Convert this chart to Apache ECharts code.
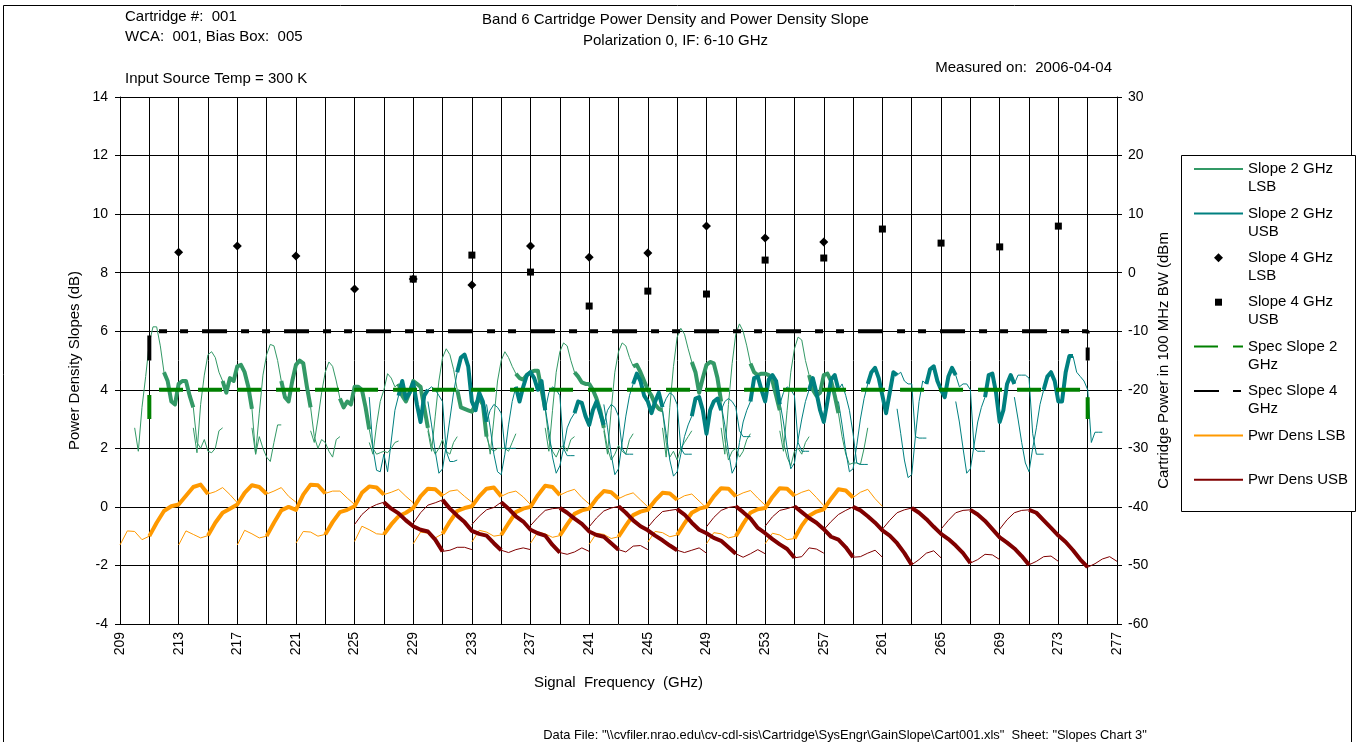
<!DOCTYPE html>
<html><head><meta charset="utf-8">
<script src="https://cdn.jsdelivr.net/npm/echarts@6/dist/echarts.min.js"></script>
<style>html,body{margin:0;padding:0;background:#fff}#c{width:1358px;height:742px}</style>
</head><body><div id="c"></div>
<script>
// ---------------- data ----------------
const LO_GHZ = [221,225,229,233,237,241,245,249,253,257,261,265];
const IF_PWR_GHZ = [4,4.5,5,5.5,6,6.5,7,7.5,8,8.5,9,9.5,10,10.5,11,11.5,12];
const IF_SLOPE_GHZ = [5,5.25,5.5,5.75,6,6.25,6.5,6.75,7,7.25,7.5,7.75,8,8.25,8.5,8.75,9,9.25,9.5,9.75,10,10.25,10.5,10.75,11];
const IN_BAND_PWR = [6,10];
const IN_BAND_SLOPE = [7,9];

// power density (dBm), one row per LO, ordered by ascending signal frequency
const PWR_LSB = [
[-46.5,-44.1,-44.2,-45.6,-45.0,-42.7,-40.7,-39.9,-39.6,-38.1,-36.6,-36.2,-37.8,-37.4,-36.7,-37.9,-39.3],
[-46.5,-44.1,-44.7,-45.3,-44.9,-42.7,-41.0,-40.3,-39.6,-37.6,-36.3,-36.6,-37.8,-37.3,-36.7,-38.2,-39.2],
[-46.5,-44.0,-44.6,-45.3,-45.0,-42.7,-40.6,-40.0,-40.5,-37.9,-36.2,-36.3,-37.7,-37.3,-37.3,-38.5,-39.6],
[-46.2,-44.2,-44.3,-45.0,-44.7,-42.6,-40.9,-40.5,-39.9,-37.6,-36.5,-36.7,-37.9,-37.5,-37.0,-38.2,-39.3],
[-45.9,-43.3,-43.9,-44.6,-44.7,-43.0,-41.6,-41.0,-40.2,-38.2,-36.9,-37.0,-38.1,-37.3,-37.1,-38.2,-39.2],
[-46.3,-44.3,-44.5,-45.3,-44.6,-42.5,-40.7,-40.2,-39.9,-38.2,-36.9,-36.7,-38.2,-37.6,-37.3,-38.3,-39.6],
[-46.0,-44.0,-44.3,-45.0,-44.8,-42.8,-40.9,-40.3,-40.0,-38.0,-36.4,-36.6,-38.0,-37.4,-37.0,-38.4,-39.5],
[-46.2,-44.3,-44.6,-45.2,-44.9,-43.0,-41.2,-40.6,-40.3,-38.6,-37.3,-37.5,-38.6,-38.0,-37.6,-38.8,-40.0],
[-46.4,-44.5,-44.7,-45.4,-45.1,-43.2,-41.4,-40.8,-40.5,-38.9,-37.6,-37.7,-38.8,-38.1,-37.8,-39.0,-40.2],
[-46.0,-44.2,-44.4,-45.1,-44.8,-42.8,-41.0,-40.3,-40.0,-38.2,-36.8,-36.9,-38.2,-37.6,-37.2,-38.5,-39.7],
[-46.3,-44.4,-44.6,-45.3,-45.0,-42.9,-41.0,-40.4,-40.2,-38.3,-36.8,-36.9,-38.1,-37.5,-37.1,-38.4,-39.8],
[-46.3,-44.5,-44.8,-45.6,-45.4,-43.2,-41.5,-40.8,-40.4,-38.6,-37.0,-37.2,-38.4,-37.5,-37.0,-38.6,-39.9]
];
const PWR_USB = [
[-43.0,-41.3,-40.2,-39.6,-39.2,-40.3,-41.1,-42.3,-43.3,-43.9,-44.2,-45.6,-47.6,-47.4,-46.9,-46.9,-47.3],
[-42.8,-41.0,-39.7,-39.3,-38.8,-40.3,-41.5,-42.6,-44.1,-44.6,-44.9,-46.2,-47.4,-47.8,-47.3,-47.0,-47.3],
[-43.0,-41.6,-40.5,-40.1,-39.2,-40.3,-41.6,-42.5,-43.9,-44.5,-44.9,-46.5,-47.8,-48.1,-47.7,-47.0,-47.6],
[-43.2,-41.8,-40.6,-40.3,-40.2,-41.0,-42.0,-42.9,-44.2,-44.8,-45.1,-46.2,-47.3,-47.7,-46.7,-46.6,-47.3],
[-43.4,-41.9,-40.7,-40.2,-39.9,-41.0,-42.3,-43.3,-44.0,-44.9,-45.7,-46.6,-47.4,-47.8,-47.4,-47.0,-47.9],
[-43.5,-42.0,-40.8,-40.6,-40.4,-41.3,-42.7,-43.9,-44.5,-45.3,-45.8,-46.9,-48.0,-48.6,-48.0,-47.3,-48.0],
[-43.4,-41.8,-40.6,-40.1,-39.9,-40.9,-42.0,-43.6,-44.5,-45.5,-46.4,-47.2,-48.7,-48.5,-47.0,-47.2,-47.9],
[-43.3,-41.7,-40.6,-40.3,-39.9,-40.9,-41.9,-42.7,-43.8,-45.1,-45.6,-46.9,-48.6,-48.5,-47.9,-47.4,-48.6],
[-43.9,-42.5,-41.3,-40.6,-40.0,-40.6,-41.6,-42.7,-44.0,-44.9,-46.2,-47.9,-49.9,-49.0,-47.9,-47.5,-48.7],
[-43.8,-42.3,-41.0,-40.5,-40.2,-41.0,-42.1,-43.4,-44.6,-45.5,-46.6,-47.9,-49.6,-49.0,-48.1,-48.2,-49.0],
[-43.8,-42.3,-41.0,-40.6,-40.5,-41.3,-42.4,-43.8,-45.2,-46.1,-47.1,-48.4,-49.9,-49.3,-48.5,-48.4,-49.3],
[-43.8,-42.2,-41.0,-40.6,-40.5,-41.0,-42.3,-43.6,-44.9,-46.0,-47.4,-49.0,-50.3,-49.7,-48.9,-48.5,-49.3]
];
// 2 GHz slopes (dB), one row per LO, ordered by ascending signal frequency
const SLOPE2_LSB = [
[2.7,1.9,3.4,4.45,5.6,6.15,6.15,5.5,4.6,4.3,3.6,3.5,4.2,4.3,4.3,3.8,3.4,2.2,2.0,2.3,1.9,1.85,2.0,2.6,2.7],
[2.7,1.85,3.5,4.5,5.2,5.3,5.1,4.6,4.3,3.9,4.4,4.3,4.8,4.85,4.6,4.1,3.35,1.8,2.4,2.0,1.7,1.55,2.2,2.8,2.8],
[2.7,1.8,3.2,4.5,5.2,5.55,5.5,5.0,4.3,3.75,3.6,4.3,4.85,5.0,4.9,4.1,3.4,2.4,2.0,2.3,2.2,1.9,1.7,2.3,2.4],
[2.6,2.2,3.0,3.9,4.6,4.95,4.8,4.3,3.7,3.4,3.6,3.5,4.1,4.1,4.0,3.4,2.65,2.0,1.8,1.85,1.9,1.85,2.0,2.2,2.25],
[2.2,1.8,2.8,3.6,4.0,4.55,4.4,4.1,4.2,3.8,3.6,3.9,4.3,4.2,4.1,3.4,2.7,2.1,1.8,2.0,2.3,1.9,1.8,2.2,2.4],
[2.6,1.9,3.1,4.3,5.1,5.4,5.2,4.7,4.0,3.4,3.35,3.3,3.25,3.5,3.7,3.5,2.4,2.0,1.9,2.0,2.0,2.0,1.9,2.2,2.5],
[2.6,1.8,3.0,4.3,5.0,5.3,5.1,4.8,4.55,4.4,4.35,4.5,4.6,4.65,4.65,4.0,3.35,2.3,1.9,1.7,2.0,2.1,1.9,2.3,2.4],
[2.7,1.9,3.3,4.6,5.3,5.6,5.5,5.0,4.6,4.45,4.25,4.2,4.2,4.0,3.7,3.3,2.7,2.0,1.6,1.8,2.1,1.9,1.8,2.3,2.5],
[2.6,1.8,3.3,4.6,5.3,5.6,5.5,5.1,4.8,4.85,4.6,4.3,4.0,3.8,3.5,3.35,3.3,2.2,1.7,1.9,1.6,2.0,2.2,2.4,2.6],
[2.7,1.7,3.4,4.8,5.8,6.1,5.9,5.4,4.95,4.6,3.9,4.4,4.85,4.95,4.9,4.4,3.6,2.3,1.6,1.9,2.0,1.7,1.9,2.3,2.5],
[2.7,1.8,3.5,4.9,5.9,6.25,6.0,5.5,4.9,4.6,4.5,4.55,4.55,4.5,4.3,3.8,3.3,2.2,1.7,1.4,1.9,2.0,1.8,2.2,2.4],
[2.6,1.9,3.3,4.6,5.4,5.8,5.7,5.0,4.5,4.0,3.8,3.9,4.5,4.55,4.3,3.8,3.2,2.4,1.8,1.45,1.5,1.5,1.45,2.0,2.7]
];
const SLOPE2_USB = [
[3.75,2.0,1.25,1.2,1.8,1.2,2.25,3.3,3.8,4.3,3.7,3.9,4.25,3.5,2.9,3.8,4.0,4.1,4.0,3.8,3.6,1.9,1.55,1.55,1.6],
[3.6,2.8,1.9,1.15,1.3,2.1,3.0,3.9,4.6,5.1,5.2,4.8,3.6,3.3,3.9,3.6,2.9,3.3,3.5,3.4,3.2,2.0,2.0,2.0,2.0],
[3.5,2.7,1.8,1.2,1.1,1.8,2.8,3.6,4.1,3.6,4.1,4.5,4.6,4.4,4.0,4.3,3.3,3.9,4.1,4.0,3.8,2.0,1.75,1.75,1.75],
[3.4,2.6,1.7,1.15,1.4,2.0,2.7,3.0,3.2,3.6,3.55,3.1,2.8,3.3,3.6,3.2,2.8,3.3,3.5,3.4,3.1,2.0,1.8,1.8,1.8],
[3.5,2.7,1.8,1.1,1.3,2.2,3.1,3.8,4.2,4.55,4.3,3.8,3.6,3.2,3.6,3.9,3.4,3.7,3.9,3.8,3.5,2.0,1.8,1.8,1.8],
[3.3,2.5,1.6,1.05,1.2,1.8,2.4,2.8,3.1,3.7,3.75,3.3,2.5,3.3,3.6,3.7,3.3,3.6,3.7,3.6,3.4,2.6,2.4,2.4,2.4],
[3.5,2.8,1.9,1.15,1.4,2.2,2.9,3.3,3.6,4.4,4.45,4.0,3.6,4.35,4.5,4.3,3.5,3.9,4.1,4.0,3.8,2.2,1.9,1.9,1.9],
[3.6,2.9,2.0,1.3,1.5,2.3,3.0,3.6,4.0,4.4,3.9,3.3,2.9,3.6,4.35,4.5,4.0,4.2,3.8,3.3,2.5,1.5,1.45,1.45,1.45],
[3.6,2.8,1.9,1.2,1.3,2.1,3.0,3.7,4.2,4.6,4.75,4.4,3.8,3.2,3.9,4.6,4.5,4.6,4.3,4.2,4.2,2.4,2.35,2.35,2.35],
[3.35,2.5,1.6,1.0,1.1,2.4,3.6,4.3,4.2,4.7,4.8,4.3,4.0,3.75,4.45,4.75,4.5,4.1,4.2,4.2,4.0,2.0,1.9,1.9,1.9],
[3.6,2.9,2.0,1.15,1.3,2.1,2.9,3.4,3.75,4.5,4.55,3.9,2.9,3.3,4.2,4.5,4.2,4.5,4.5,4.5,4.4,2.5,1.8,1.8,1.8],
[3.75,3.0,2.2,1.5,1.2,2.0,2.7,3.5,4.0,4.45,4.6,4.3,3.6,3.6,4.6,5.15,5.15,4.6,4.45,4.3,4.0,2.2,2.55,2.55,2.55]
];
// 4 GHz slopes (dB)
const SLOPE4_LSB_GHZ = [213,217,221,225,229,233,237,241,245,249,253,257];
const SLOPE4_LSB = [8.70,8.91,8.57,7.44,7.78,7.58,8.91,8.53,8.67,9.59,9.18,9.05];
const SLOPE4_USB_GHZ = [229,233,237,241,245,249,253,257,261,265,269,273];
const SLOPE4_USB = [7.78,8.60,8.02,6.86,7.37,7.27,8.43,8.50,9.49,9.01,8.88,9.59];
// specification limits
const SPEC_GHZ = [211,211,275,275];
const SPEC2_DB = [3,4,4,3];
const SPEC4_DB = [5,6,6,5];

const LEGEND_NAMES = ['Slope 2 GHz LSB','Slope 2 GHz USB','Slope 4 GHz LSB','Slope 4 GHz USB','Spec Slope 2 GHz','Spec Slope 4 GHz','Pwr Dens LSB','Pwr Dens USB'];
const LEGEND_TEXT = {
 'Slope 2 GHz LSB':' \nSlope 2 GHz\nLSB','Slope 2 GHz USB':' \nSlope 2 GHz\nUSB',
 'Slope 4 GHz LSB':' \nSlope 4 GHz\nLSB','Slope 4 GHz USB':' \nSlope 4 GHz\nUSB',
 'Spec Slope 2 GHz':' \nSpec Slope 2\nGHz','Spec Slope 4 GHz':' \nSpec Slope 4\nGHz',
 'Pwr Dens LSB':' \nPwr Dens LSB\n ','Pwr Dens USB':' \nPwr Dens USB\n '
};
const DATA_FILE = 'Data File: "\\\\cvfiler.nrao.edu\\cv-cdl-sis\\Cartridge\\SysEngr\\GainSlope\\Cart001.xls"  Sheet: "Slopes Chart 3"';

// ---------------- chart ----------------
const FONT = '"Liberation Sans", Arial, Helvetica, sans-serif';
const C = {lsb:'#339966', usb:'#008080', spec2:'#008000', spec4:'#000000', plsb:'#FF9900', pusb:'#800000'};

function sidebandPoints(lo, ifs, vals, lower) {
  const n = ifs.length;
  return vals.map((v, i) => {
    const f = lower ? ifs[n - 1 - i] : ifs[i];
    return {x: lower ? lo - f : lo + f, y: v, f: f};
  });
}
function lineSeries(name, color, width, yIdx, pts) {
  return {type:'line', name, xAxisIndex:0, yAxisIndex:yIdx, data: pts.map(p => [p.x, p.y]),
    symbol:'none', showSymbol:false, lineStyle:{color, width, join:'round'}, itemStyle:{color},
    silent:true, animation:false, emphasis:{disabled:true}, clip:true};
}
function addFamily(out, name, color, rows, ifs, band, lower, yIdx) {
  const thin = [], thick = [];
  rows.forEach((vals, k) => {
    const pts = sidebandPoints(LO_GHZ[k], ifs, vals, lower);
    thin.push(lineSeries(name, color, 1, yIdx, pts));
    thick.push(lineSeries(name, color, 4, yIdx, pts.filter(p => p.f >= band[0] - 1e-9 && p.f <= band[1] + 1e-9)));
  });
  out.thin.push(...thin); out.thick.push(...thick);
}

const pw = {thin:[], thick:[]}, sl = {thin:[], thick:[]};
addFamily(pw, 'Pwr Dens LSB', C.plsb, PWR_LSB, IF_PWR_GHZ, IN_BAND_PWR, true, 1);
addFamily(pw, 'Pwr Dens USB', C.pusb, PWR_USB, IF_PWR_GHZ, IN_BAND_PWR, false, 1);
addFamily(sl, 'Slope 2 GHz LSB', C.lsb, SLOPE2_LSB, IF_SLOPE_GHZ, IN_BAND_SLOPE, true, 0);
addFamily(sl, 'Slope 2 GHz USB', C.usb, SLOPE2_USB, IF_SLOPE_GHZ, IN_BAND_SLOPE, false, 0);

const series = [];
series.push(...sl.thin, ...sl.thick);
series.push({type:'line', name:'Spec Slope 2 GHz', xAxisIndex:0, yAxisIndex:0,
  data: SPEC_GHZ.map((x,i)=>[x, SPEC2_DB[i]]), symbol:'none', silent:true, animation:false,
  lineStyle:{color:C.spec2, width:4, type:[24,15], cap:'butt'}, itemStyle:{color:C.spec2}});
series.push({type:'line', name:'Spec Slope 4 GHz', xAxisIndex:0, yAxisIndex:0,
  data: SPEC_GHZ.map((x,i)=>[x, SPEC4_DB[i]]), symbol:'none', silent:true, animation:false,
  lineStyle:{color:C.spec4, width:4, type:[25,14,8,13,8,14], cap:'butt'}, itemStyle:{color:C.spec4}});
series.push(...pw.thin, ...pw.thick);
series.push({type:'scatter', name:'Slope 4 GHz LSB', xAxisIndex:0, yAxisIndex:0, symbol:'diamond', symbolSize:[9,9],
  data: SLOPE4_LSB_GHZ.map((x,i)=>[x, SLOPE4_LSB[i]]), itemStyle:{color:'#000', opacity:1}, silent:true, animation:false});
series.push({type:'scatter', name:'Slope 4 GHz USB', xAxisIndex:0, yAxisIndex:0, symbol:'rect', symbolSize:7,
  data: SLOPE4_USB_GHZ.map((x,i)=>[x, SLOPE4_USB[i]]), itemStyle:{color:'#000', opacity:1}, silent:true, animation:false});

const DIAMOND_ICON = 'path://M0,0L0,0M49,14L49,14M24.5,2.5L29,7L24.5,11.5L20,7Z';
const SQUARE_ICON = 'path://M0,0L0,0M49,14L49,14M21,3.5L28,3.5L28,10.5L21,10.5Z';
const legendData = LEGEND_NAMES.map(n => {
  if (n === 'Slope 4 GHz LSB') return {name:n, icon:DIAMOND_ICON, itemStyle:{color:'#000', opacity:1}};
  if (n === 'Slope 4 GHz USB') return {name:n, icon:SQUARE_ICON, itemStyle:{color:'#000', opacity:1}};
  const o = {name:n, itemStyle:{color:'rgba(0,0,0,0)', borderWidth:0}};
  if (n.indexOf('Spec') !== 0) o.lineStyle = {width:2};
  return o;
});

const txt = (extra) => Object.assign({fontFamily:FONT, color:'#000', fontWeight:'normal'}, extra);
const axisLine = {show:true, lineStyle:{color:'#000', width:1}};

const option = {
  animation:false,
  backgroundColor:'#fff',
  grid:{left:120, right:241, top:97, bottom:118, containLabel:false, outerBoundsMode:'none'},
  title:[
    {text:'Band 6 Cartridge Power Density and Power Density Slope\nPolarization 0, IF: 6-10 GHz', left:675.5, top:9.5, padding:0,
      textAlign:'center', textVerticalAlign:'top', textStyle:txt({fontSize:15, lineHeight:21})},
    {text:'Cartridge #:  001\nWCA:  001, Bias Box:  005', left:125, top:7, padding:0, textAlign:'left', textVerticalAlign:'top',
      textStyle:txt({fontSize:15, lineHeight:20})},
    {text:'Input Source Temp = 300 K', left:125, top:70, padding:0, textAlign:'left', textVerticalAlign:'top',
      textStyle:txt({fontSize:15, lineHeight:18})},
    {text:'Measured on:  2006-04-04', left:1112, top:59, padding:0, textAlign:'right', textVerticalAlign:'top',
      textStyle:txt({fontSize:15, lineHeight:18})},
    {text:DATA_FILE, left:845, top:728, padding:0, textAlign:'center', textVerticalAlign:'top',
      textStyle:txt({fontSize:12.9, lineHeight:14})}
  ],
  legend:{
    data:legendData, orient:'vertical', left:1193, top:142, padding:0,
    itemWidth:49, itemHeight:14, itemGap:-9.6, selectedMode:false,
    formatter:n => LEGEND_TEXT[n],
    textStyle:txt({fontSize:15, lineHeight:18})
  },
  xAxis:[{
    type:'value', min:209, max:277, interval:4, position:'bottom',
    axisLine, axisTick:{show:true, length:5, inside:false, lineStyle:{color:'#000'}},
    minorTick:{show:false, splitNumber:2},
    splitLine:{show:true, lineStyle:{color:'#000', width:1}},
    minorSplitLine:{show:true, lineStyle:{color:'#000', width:1}},
    axisLabel:{rotate:90, margin:8, fontSize:14, fontFamily:FONT, color:'#000', showMinLabel:true, showMaxLabel:true},
    name:'Signal  Frequency  (GHz)', nameLocation:'middle', nameGap:51, nameMoveOverlap:false,
    nameTextStyle:txt({fontSize:15})
  }],
  yAxis:[{
    type:'value', min:-4, max:14, interval:2, position:'left',
    axisLine, axisTick:{show:true, length:5, lineStyle:{color:'#000'}},
    splitLine:{show:true, lineStyle:{color:'#000', width:1}},
    axisLabel:{margin:12, fontSize:14, fontFamily:FONT, color:'#000', showMinLabel:true, showMaxLabel:true},
    name:'Power Density Slopes (dB)', nameLocation:'middle', nameGap:38, nameRotate:90, nameMoveOverlap:false,
    nameTextStyle:txt({fontSize:15})
  },{
    type:'value', min:-60, max:30, interval:10, position:'right',
    axisLine, axisTick:{show:true, length:5, lineStyle:{color:'#000'}},
    splitLine:{show:false},
    axisLabel:{margin:11, fontSize:14, fontFamily:FONT, color:'#000', showMinLabel:true, showMaxLabel:true},
    name:'Cartridge Power in 100 MHz BW (dBm', nameLocation:'middle', nameGap:39, nameRotate:90, nameMoveOverlap:false,
    nameTextStyle:txt({fontSize:15})
  }],
  graphic:[
    {type:'rect', silent:true, z:-10, shape:{x:3.5, y:5.5, width:1348, height:760}, style:{fill:'none', stroke:'#000', lineWidth:1}},
    {type:'rect', silent:true, z:-5, shape:{x:1181.5, y:155.5, width:174, height:356}, style:{fill:'#fff', stroke:'#000', lineWidth:1}}
  ],
  series
};
const chart = echarts.init(document.getElementById('c'), null, {renderer:'canvas'});
chart.setOption(option);
</script>
</body></html>
